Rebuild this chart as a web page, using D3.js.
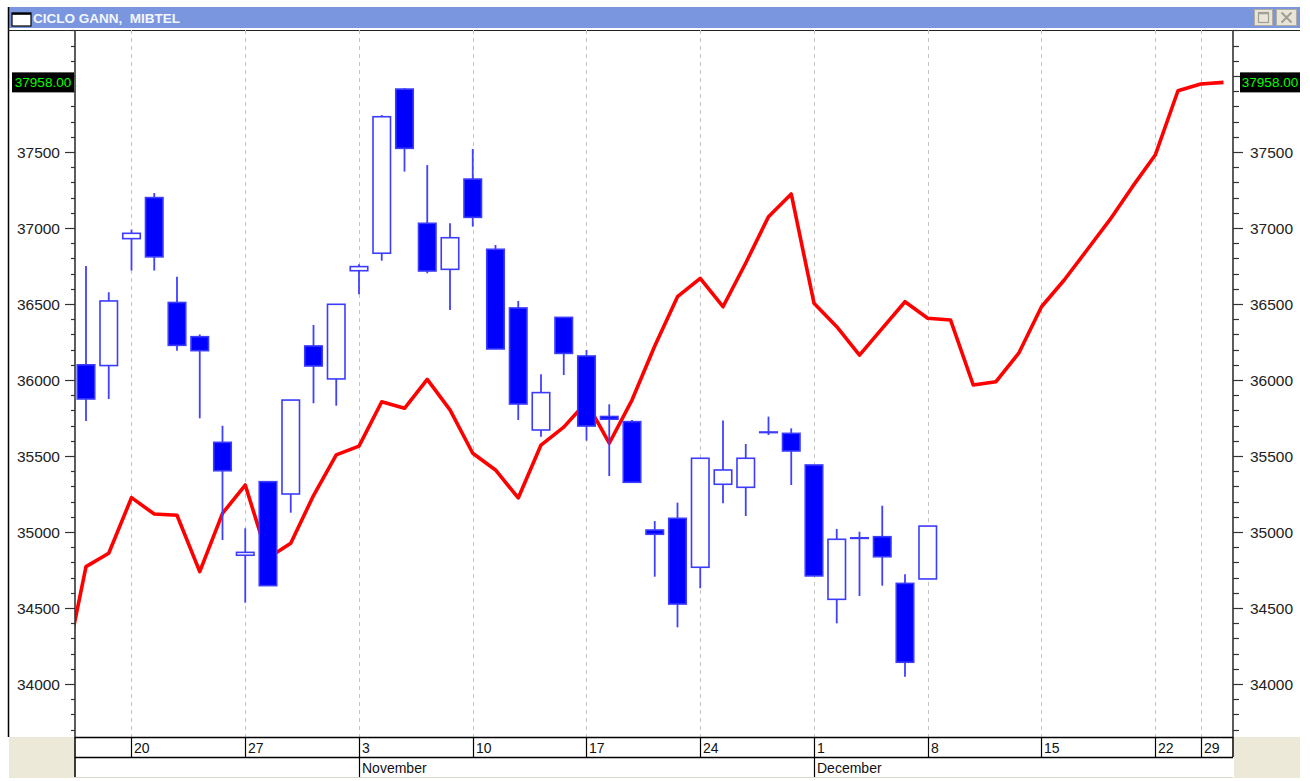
<!DOCTYPE html>
<html>
<head>
<meta charset="utf-8">
<script src="https://cdn.jsdelivr.net/npm/d3@7/dist/d3.min.js"></script>
<style>
  html, body { margin: 0; padding: 0; background: #ffffff; }
  svg { display: block; }
  text { font-family: "Liberation Sans", Arial, sans-serif; }
</style>
</head>
<body>
<svg id="chart" width="1310" height="781"></svg>
<script>
// ---------------- DATA ----------------
const title = "CICLO GANN,  MIBTEL";

// trading days (index = position on the time axis)
const days = [
  "2003-10-15","2003-10-16","2003-10-17","2003-10-20","2003-10-21","2003-10-22","2003-10-23","2003-10-24",
  "2003-10-27","2003-10-28","2003-10-29","2003-10-30","2003-10-31",
  "2003-11-03","2003-11-04","2003-11-05","2003-11-06","2003-11-07",
  "2003-11-10","2003-11-11","2003-11-12","2003-11-13","2003-11-14",
  "2003-11-17","2003-11-18","2003-11-19","2003-11-20","2003-11-21",
  "2003-11-24","2003-11-25","2003-11-26","2003-11-27","2003-11-28",
  "2003-12-01","2003-12-02","2003-12-03","2003-12-04","2003-12-05",
  "2003-12-08","2003-12-09","2003-12-10","2003-12-11","2003-12-12",
  "2003-12-15","2003-12-16","2003-12-17","2003-12-18","2003-12-19",
  "2003-12-22","2003-12-23","2003-12-29","2003-12-30"
];

// MIBTEL candles, 2003-10-16 .. 2003-12-08
const candleDays = days.slice(1, 39);
const open  = [36100,36095,36930,37200,36510,36285,35590,34847,35331,35250,36224,36007,36719,36834,37914,37031,36728,37322,36860,36474,35671,36412,36158,35760,35726,35013,35090,34768,35314,35294,35655,35649,35441,34557,34958,34969,34662,34691];
const high  = [36750,36577,36990,37230,36680,36300,35699,35024,35331,35870,36362,36500,36761,37743,37920,37414,37031,37520,36888,36520,36037,36412,36197,35840,35737,35072,35193,35485,35733,35579,35759,35682,35441,35020,35002,35173,34722,35039];
const low   = [35730,35875,36720,36720,36193,35748,34947,34535,34647,35127,35847,35831,36564,36785,37371,36702,36461,37009,36204,35737,35627,36033,35601,35368,35327,34706,34373,34630,35189,35105,35638,35309,34711,34399,34579,34647,34048,34691];
const close = [35875,36520,36965,36810,36228,36193,35403,34866,34647,35868,36092,36498,36746,37732,37524,36717,36936,37070,36204,35842,35917,36175,35697,35742,35327,34985,34526,35485,35408,35485,35658,35533,34711,34952,34962,34837,34143,35039];

// Gann cycle projection (one value per day in `days`)
const gann = [34040,34772,34860,35226,35118,35110,34739,35123,35309,34829,34926,35240,35507,35565,35857,35814,36004,35803,35518,35408,35224,35572,35690,35855,35584,35868,36224,36548,36669,36482,36770,37074,37224,36505,36351,36164,36340,36515,36406,36395,35967,35989,36176,36482,36658,36855,37053,37272,37480,37903,37947,37958];

// axis labels
const priceTicks = [34000,34500,35000,35500,36000,36500,37000,37500];
const weekDays   = ["2003-10-20","2003-10-27","2003-11-03","2003-11-10","2003-11-17","2003-11-24","2003-12-01","2003-12-08","2003-12-15","2003-12-22","2003-12-29"];
const weekLabels = ["20","27","3","10","17","24","1","8","15","22","29"];
const monthDays   = ["2003-11-03","2003-12-01"];
const monthLabels = ["November","December"];

// ---------------- LAYOUT ----------------
const svg = d3.select("#chart");
const L = 75, R = 1233, T = 30, B = 737;

const x = d3.scaleLinear().domain([0.5165, 51.418]).range([L, R]);
const y = d3.scaleLinear().domain([33651.3, 38302.6]).range([B, T]);
const idx = d => days.indexOf(d);

// window chrome
svg.append("rect").attr("x", 8).attr("y", 7).attr("width", 1292).attr("height", 21).attr("fill", "#7A96DE");
svg.append("rect").attr("x", 12).attr("y", 13).attr("width", 19).attr("height", 13)
  .attr("fill", "#ffffff").attr("stroke", "#000").attr("stroke-width", 1.2);
svg.append("line").attr("x1", 12).attr("x2", 31).attr("y1", 13.8).attr("y2", 13.8).attr("stroke", "#000").attr("stroke-width", 2);
svg.append("text").attr("x", 33).attr("y", 22.5).attr("fill", "#F4F6FF")
  .attr("font-size", 13.5).attr("font-weight", "bold").attr("xml:space", "preserve").text(title);

// title-bar buttons
const btns = svg.append("g");
btns.append("rect").attr("x", 1254.5).attr("y", 9.5).attr("width", 18).attr("height", 16)
  .attr("fill", "#E8E5D8").attr("stroke", "#B0AD9E");
btns.append("rect").attr("x", 1258.5).attr("y", 12.5).attr("width", 10).attr("height", 10)
  .attr("fill", "none").attr("stroke", "#A09E95").attr("stroke-width", 1.2);
btns.append("line").attr("x1", 1258.5).attr("x2", 1268.5).attr("y1", 13.5).attr("y2", 13.5).attr("stroke", "#A09E95").attr("stroke-width", 1.5);
btns.append("rect").attr("x", 1276.5).attr("y", 9.5).attr("width", 20).attr("height", 16)
  .attr("fill", "#E8E5D8").attr("stroke", "#B0AD9E");
btns.append("path").attr("d", "M1281.5,12.5 L1291.5,22.5 M1291.5,12.5 L1281.5,22.5")
  .attr("stroke", "#A09E95").attr("stroke-width", 2);

// frame lines
svg.append("line").attr("x1", 8.5).attr("x2", 8.5).attr("y1", 7).attr("y2", B).attr("stroke", "#000").attr("stroke-width", 1.5);
svg.append("line").attr("x1", 8).attr("x2", 1300).attr("y1", T + 0.5).attr("y2", T + 0.5).attr("stroke", "#222").attr("stroke-width", 1);

// beige side panels under axes
svg.append("rect").attr("x", 9).attr("y", B).attr("width", L - 9).attr("height", 41).attr("fill", "#ECE9D8");
svg.append("rect").attr("x", R + 1).attr("y", B).attr("width", 1300 - R - 1).attr("height", 41).attr("fill", "#ECE9D8");

// clip
svg.append("defs").append("clipPath").attr("id", "plotclip")
  .append("rect").attr("x", L).attr("y", T).attr("width", R - L).attr("height", B - T);

// vertical dashed grid
svg.append("g").selectAll("line").data(weekDays).join("line")
  .attr("x1", d => Math.round(x(idx(d))) + 0.5).attr("x2", d => Math.round(x(idx(d))) + 0.5)
  .attr("y1", T).attr("y2", B)
  .attr("stroke", "#C4C4C4").attr("stroke-width", 1).attr("stroke-dasharray", "4,4");

const plot = svg.append("g").attr("clip-path", "url(#plotclip)");

// Gann line
plot.append("path")
  .datum(gann)
  .attr("d", d3.line().x((d, i) => x(i)).y(d => y(d)))
  .attr("fill", "none").attr("stroke", "#FF0000").attr("stroke-width", 3.6)
  .attr("stroke-linejoin", "round");

// candles
const candles = candleDays.map((d, i) => ({ k: idx(d), o: open[i], h: high[i], l: low[i], c: close[i] }));
const bw = 17.5;
const cg = plot.append("g");
cg.selectAll("line.wick").data(candles).join("line").attr("class", "wick")
  .attr("x1", d => x(d.k)).attr("x2", d => x(d.k))
  .attr("y1", d => y(d.h)).attr("y2", d => y(d.l))
  .attr("stroke", "#4040FF").attr("stroke-width", 1.8);
cg.selectAll("rect.body").data(candles).join("rect").attr("class", "body")
  .attr("x", d => x(d.k) - bw / 2)
  .attr("y", d => y(Math.max(d.o, d.c)))
  .attr("width", bw)
  .attr("height", d => Math.max(0.6, Math.abs(y(d.o) - y(d.c))))
  .attr("fill", d => d.c < d.o ? "#0000FF" : "#ffffff")
  .attr("stroke", "#3C3CFF").attr("stroke-width", 1.6);

// left axis
const axL = svg.append("g");
axL.append("line").attr("x1", L).attr("x2", L).attr("y1", T).attr("y2", B).attr("stroke", "#333").attr("stroke-width", 1.6);
const minor = d3.range(33700, 38301, 100);
axL.selectAll("line.t").data(minor).join("line").attr("class", "t")
  .attr("x1", d => d % 500 === 0 ? L - 10 : L - 4).attr("x2", L)
  .attr("y1", d => Math.round(y(d)) + 0.5).attr("y2", d => Math.round(y(d)) + 0.5)
  .attr("stroke", "#333").attr("stroke-width", 1.2);
axL.selectAll("text").data(priceTicks).join("text")
  .attr("x", 60).attr("y", d => y(d)).attr("dy", "0.36em")
  .attr("text-anchor", "end").attr("font-size", 15.5).attr("fill", "#222").text(d => d);

// right axis
const axR = svg.append("g");
axR.append("line").attr("x1", R).attr("x2", R).attr("y1", T).attr("y2", B).attr("stroke", "#333").attr("stroke-width", 1.6);
axR.selectAll("line.t").data(minor).join("line").attr("class", "t")
  .attr("x1", R).attr("x2", d => d % 500 === 0 ? R + 10 : R + 6)
  .attr("y1", d => Math.round(y(d)) + 0.5).attr("y2", d => Math.round(y(d)) + 0.5)
  .attr("stroke", "#333").attr("stroke-width", 1.2);
axR.selectAll("text").data(priceTicks).join("text")
  .attr("x", 1250).attr("y", d => y(d)).attr("dy", "0.36em")
  .attr("text-anchor", "start").attr("font-size", 15.5).attr("fill", "#222").text(d => d);

// last value boxes
const last = gann[gann.length - 1];
const lastTxt = d3.format(".2f")(last);
[[12, 62], [1240, 60]].forEach(([bx, w]) => {
  svg.append("rect").attr("x", bx).attr("y", y(last) - 10).attr("width", w).attr("height", 20).attr("fill", "#000");
  svg.append("text").attr("x", bx + w / 2).attr("y", y(last)).attr("dy", "0.36em")
    .attr("text-anchor", "middle").attr("font-size", 13.5).attr("fill", "#00FF00").text(lastTxt);
});

// date axis rows
const dA = svg.append("g");
const r1 = B, r2 = 757, r3 = 777;
dA.append("rect").attr("x", L).attr("y", r1).attr("width", R - L).attr("height", r3 - r1).attr("fill", "#fff");
dA.append("line").attr("x1", L).attr("x2", R).attr("y1", r1 + 0.5).attr("y2", r1 + 0.5).attr("stroke", "#000").attr("stroke-width", 1.5);
dA.append("line").attr("x1", L).attr("x2", R).attr("y1", r2 + 0.5).attr("y2", r2 + 0.5).attr("stroke", "#000").attr("stroke-width", 1.5);
dA.append("line").attr("x1", L).attr("x2", R).attr("y1", r3 + 0.5).attr("y2", r3 + 0.5).attr("stroke", "#D8D6CC").attr("stroke-width", 1);
dA.append("line").attr("x1", L).attr("x2", L).attr("y1", r1).attr("y2", r3).attr("stroke", "#000").attr("stroke-width", 1.5);
dA.append("line").attr("x1", R).attr("x2", R).attr("y1", r1).attr("y2", r2).attr("stroke", "#000").attr("stroke-width", 1.5);
dA.selectAll("line.w").data(weekDays).join("line").attr("class", "w")
  .attr("x1", d => Math.round(x(idx(d))) + 0.5).attr("x2", d => Math.round(x(idx(d))) + 0.5)
  .attr("y1", r1).attr("y2", r2).attr("stroke", "#000").attr("stroke-width", 1.2);
dA.selectAll("text.w").data(weekDays).join("text").attr("class", "w")
  .attr("x", d => Math.round(x(idx(d))) + 3).attr("y", 753)
  .attr("font-size", 14).attr("fill", "#111").text((d, i) => weekLabels[i]);
dA.selectAll("line.m").data(monthDays).join("line").attr("class", "m")
  .attr("x1", d => Math.round(x(idx(d))) + 0.5).attr("x2", d => Math.round(x(idx(d))) + 0.5)
  .attr("y1", r2).attr("y2", r3).attr("stroke", "#000").attr("stroke-width", 1.2);
dA.selectAll("text.m").data(monthDays).join("text").attr("class", "m")
  .attr("x", d => Math.round(x(idx(d))) + 3).attr("y", 773)
  .attr("font-size", 14).attr("fill", "#111").text((d, i) => monthLabels[i]);
</script>
</body>
</html>
